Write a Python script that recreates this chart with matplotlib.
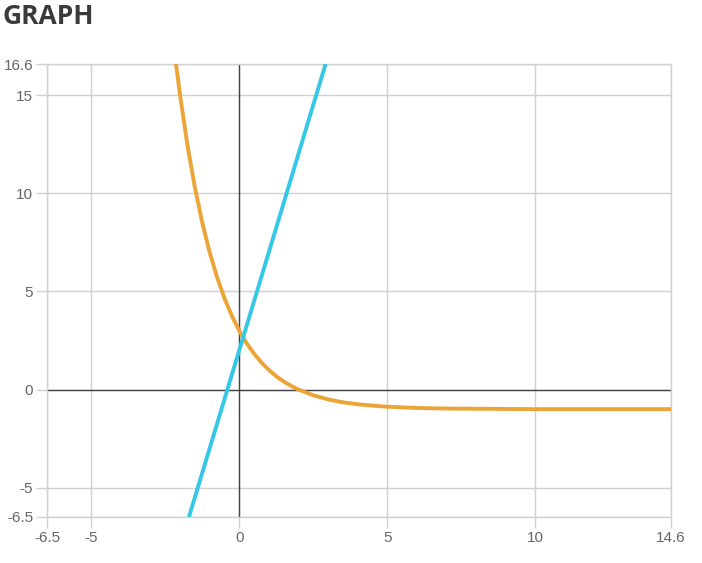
import matplotlib.pyplot as plt

# blue straight line: end points
line_x = [-1.7, 2.92]
line_y = [-6.5, 16.6]

# orange curve, points
curve_x = [-2.14, -2, -1.75, -1.5, -1.25, -1, -0.75, -0.5, -0.25, 0, 0.25, 0.5,
           0.75, 1, 1.25, 1.5, 1.75, 2, 2.5, 3, 3.5, 4, 4.5, 5, 6, 7, 8, 9, 10, 12, 14.6]
curve_y = [16.63, 15, 12.45, 10.31, 8.51, 7, 5.73, 4.66, 3.76, 3, 2.36, 1.83,
           1.38, 1, 0.68, 0.41, 0.19, 0, -0.29, -0.5, -0.65, -0.75, -0.82, -0.875,
           -0.94, -0.97, -0.98, -0.99, -1.0, -1.0, -1.0]

x_ticks = [-6.5, -5, 0, 5, 10, 14.6]
x_labels = ["-6.5", "-5", "0", "5", "10", "14.6"]
y_ticks = [-6.5, -5, 0, 5, 10, 15, 16.6]
y_labels = ["-6.5", "-5", "0", "5", "10", "15", "16.6"]

plt.rcParams['font.family'] = ['Liberation Sans', 'DejaVu Sans']

fig = plt.figure(figsize=(7.02, 5.63), dpi=100)
ax = fig.add_axes([47/702, 46/563, 624/702, 453/563])

ax.set_xlim(-6.5, 14.6)
ax.set_ylim(-6.5, 16.6)
ax.set_xticks(x_ticks, x_labels)
ax.set_yticks(y_ticks, y_labels)
ax.grid(True, color="#d0d0d0", linewidth=1)
ax.tick_params(length=8, width=1, color="#d0d0d0", labelcolor="#666666", labelsize=11, pad=2)
for s in ax.spines.values():
    s.set_color("#d0d0d0")
    s.set_linewidth(1)

ax.axhline(0, color="#444444", linewidth=1, zorder=2)
ax.axvline(0, color="#444444", linewidth=1, zorder=2)

ax.plot(curve_x, curve_y, color="#EBA537", linewidth=2.8, solid_capstyle="butt", zorder=3)
ax.plot(line_x, line_y, color="#35C7E6", linewidth=2.8, solid_capstyle="butt", zorder=4)

fig.text(3/702, 1 - 24/563, "GRAPH", fontsize=19, fontweight="bold", color="#3a3a3a",
         family=["Open Sans", "DejaVu Sans"])

fig.savefig("out.png", dpi=100)
